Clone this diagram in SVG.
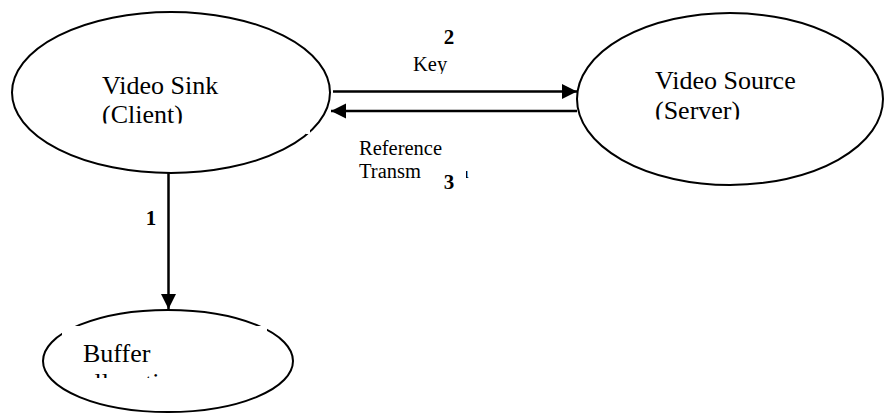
<svg xmlns="http://www.w3.org/2000/svg" width="884" height="413" viewBox="0 0 884 413">
  <style>
    .node { fill: #fff; stroke: #000; stroke-width: 2; }
    .t { font-family: 'Liberation Serif', 'DejaVu Serif', serif; fill: #000; }
    .big { font-size: 26px; }
    .lab { font-size: 20.5px; }
    .num { font-size: 21px; font-weight: bold; text-anchor: middle; }
    .edge { stroke: #000; stroke-width: 2.5; fill: none; }
    .mask { fill: #fff; stroke: none; }
  </style>
  <defs>
    <marker id="ah" markerUnits="userSpaceOnUse" markerWidth="16" markerHeight="16" refX="15" refY="7.5" orient="auto">
      <path d="M0,0 L15,7.5 L0,15 z" fill="#000"/>
    </marker>
    <clipPath id="clipSink"><rect x="0" y="0" width="340" height="123.5"/></clipPath>
    <clipPath id="clipSource"><rect x="560" y="0" width="324" height="119.5"/></clipPath>
    <clipPath id="clipKey"><rect x="380" y="40" width="120" height="34"/></clipPath>
    <clipPath id="clipBuf"><rect x="62" y="326" width="205" height="52"/></clipPath>
    <clipPath id="clipTrans">
      <rect x="350" y="160" width="71" height="30"/>
      <rect x="466" y="171" width="16" height="10"/>
    </clipPath>
  </defs>

  <g id="node-sink">
    <ellipse class="node" cx="171" cy="92.5" rx="159" ry="80.5"/>
    <rect class="mask" x="306" y="130" width="4" height="4"/>
    <g clip-path="url(#clipSink)">
      <text class="t big" x="102" y="94">Video Sink</text>
      <text class="t big" x="102" y="123">(Client)</text>
    </g>
  </g>

  <g id="node-source">
    <ellipse class="node" cx="730" cy="99" rx="153" ry="86"/>
    <g clip-path="url(#clipSource)">
      <text class="t big" x="655" y="89">Video Source</text>
      <text class="t big" x="655" y="119">(Server)</text>
    </g>
  </g>

  <g id="node-buffer">
    <ellipse class="node" cx="168" cy="361" rx="125" ry="51"/>
    <rect class="mask" x="62" y="326" width="205" height="52"/>
    <g clip-path="url(#clipBuf)">
      <text class="t big" x="83" y="362">Buffer</text>
      <text class="t big" x="83" y="391">allocation</text>
    </g>
  </g>

  <g id="connectors">
    <line class="edge" x1="333" y1="91.5" x2="577" y2="91.5" marker-end="url(#ah)"/>
    <line class="edge" x1="577" y1="111" x2="331" y2="111" marker-end="url(#ah)"/>
    <line class="edge" x1="168.5" y1="173" x2="168.5" y2="309" marker-end="url(#ah)"/>
  </g>

  <g id="labels">
    <text class="t num" x="449" y="44">2</text>
    <g clip-path="url(#clipKey)">
      <text class="t lab" x="413" y="71">Key</text>
    </g>
    <text class="t lab" x="359" y="155">Reference</text>
    <g clip-path="url(#clipTrans)">
      <text class="t lab" x="359" y="178">Transmission</text>
    </g>
    <text class="t num" x="449" y="189">3</text>
    <text class="t num" x="151" y="225">1</text>
  </g>
</svg>
